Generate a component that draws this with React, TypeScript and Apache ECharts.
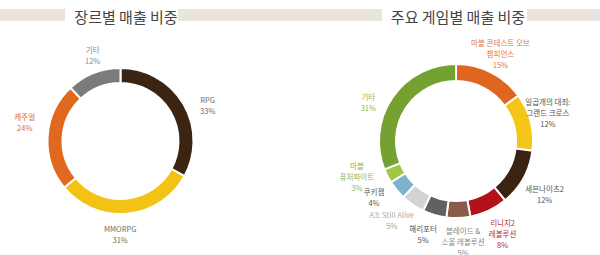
import React, { useEffect, useRef } from "react";
import * as echarts from "echarts";

// ---- Data ----
const genreNames = ["RPG", "MMORPG", "캐주얼", "기타"];
const genreValues = [33, 31, 24, 12];
const genreColors = ["#3b2412", "#f2c314", "#e0691f", "#7b7b7b"];
const genreLabelColors = ["#6a6a6a", "#6a6a6a", "#e0691f", "#8a8a8a"];

const gameNames = [
  "마블 콘테스트 오브\n챔피언스",
  "일곱개의 대죄:\n그랜드 크로스",
  "세븐나이츠2",
  "리니지2\n레볼루션",
  "블레이드 &\n소울 레볼루션",
  "해리포터",
  "A3: Still Alive",
  "쿠키잼",
  "마블\n퓨처파이트",
  "기타",
];
const gameValues = [15, 12, 12, 8, 5, 5, 5, 4, 3, 31];
const gameColors = [
  "#e0651f", "#f5c518", "#3a2313", "#b3121a", "#8c5a48",
  "#616161", "#d3d3d3", "#7fb2cc", "#9cc845", "#74a130",
];
const gameLabelColors = [
  "#e37a3e", "#555555", "#555555", "#b8323a", "#8a8a8a",
  "#555555", "#a8a8a8", "#555555", "#8fb24e", "#8fb24e",
];

const titles = ["장르별 매출 비중", "주요 게임별 매출 비중"];

// label offsets (style)
const genreNudge = [[8, 11], [-9, 1], [-4, -13], [6, 0]];
const gameNudge = [[-1, 2], [-5, -4], [1, 5], [4, 2], [4, 1], [-5, -3], [-8, -4], [-5, -8], [-10, -10], [-5, 17]];

const FONT = "'Noto Sans CJK KR', 'Noto Sans', sans-serif";

function midAngles(values: number[]) {
  const total = values.reduce((a, b) => a + b, 0);
  let acc = 0;
  return values.map((v) => {
    const m = ((acc + v / 2) / total) * Math.PI * 2;
    acc += v;
    return m;
  });
}

function makeSeries(
  names: string[], values: number[], colors: string[], labelColors: string[],
  cx: number, cy: number, rIn: number, rOut: number
) {
  return {
    type: "pie",
    center: [cx, cy],
    radius: [rIn, rOut],
    startAngle: 90,
    clockwise: true,
    avoidLabelOverlap: false,
    silent: true,
    itemStyle: { borderColor: "#ffffff", borderWidth: 2 },
    label: {
      show: true,
      position: "outside",
      formatter: (p: any) => `${p.name}\n${p.value}%`,
      fontFamily: FONT,
      fontSize: 7.5,
      lineHeight: 11,
      align: "center",
    },
    labelLine: { show: false, length: 10, length2: 0 },
    data: names.map((n, i) => ({
      name: n,
      value: values[i],
      itemStyle: { color: colors[i] },
      label: { color: labelColors[i] },
    })),
  };
}

export default function App() {
  const ref = useRef<HTMLDivElement>(null);
  useEffect(() => {
    if (!ref.current) return;
    const chart = echarts.init(ref.current, undefined, { renderer: "svg" });
    const L = { cx: 120.5, cy: 141, rIn: 58, rOut: 73, R: 92 };
    const Rg = { cx: 456, cy: 141, rIn: 60, rOut: 77, R: 100 };
    const gAng = midAngles(genreValues);
    const mAng = midAngles(gameValues);

    const bar = (x: number, w: number) => ({
      type: "rect",
      shape: { x, y: 9, width: w, height: 12 },
      style: { fill: "#e9e4dd" },
      silent: true,
    });

    chart.setOption({
      animation: false,
      backgroundColor: "#ffffff",
      title: [
        { text: titles[0], left: 121, top: 4, textAlign: "center",
          textStyle: { fontFamily: FONT, fontSize: 15, fontWeight: "normal", color: "#444" } },
        { text: titles[1], left: 453, top: 4, textAlign: "center",
          textStyle: { fontFamily: FONT, fontSize: 15, fontWeight: "normal", color: "#444" } },
      ],
      graphic: [bar(0, 65), bar(178, 122), bar(300, 82), bar(527, 73)],
      series: [
        {
          ...makeSeries(genreNames, genreValues, genreColors, genreLabelColors, L.cx, L.cy, L.rIn, L.rOut),
          labelLayout: (p: any) => {
            const a = gAng[p.dataIndex];
            const n = genreNudge[p.dataIndex];
            return {
              x: L.cx + L.R * Math.sin(a) + n[0],
              y: L.cy - L.R * Math.cos(a) + n[1],
              align: "center",
              verticalAlign: "middle",
            };
          },
        },
        {
          ...makeSeries(gameNames, gameValues, gameColors, gameLabelColors, Rg.cx, Rg.cy, Rg.rIn, Rg.rOut),
          labelLayout: (p: any) => {
            const a = mAng[p.dataIndex];
            const n = gameNudge[p.dataIndex];
            return {
              x: Rg.cx + Rg.R * Math.sin(a) + n[0],
              y: Rg.cy - Rg.R * Math.cos(a) + n[1],
              align: "center",
              verticalAlign: "middle",
            };
          },
        },
      ],
    });
    return () => chart.dispose();
  }, []);
  return (
    <div
      ref={ref}
      style={{ position: "fixed", left: 0, top: 0, width: 600, height: 255 }}
    />
  );
}
